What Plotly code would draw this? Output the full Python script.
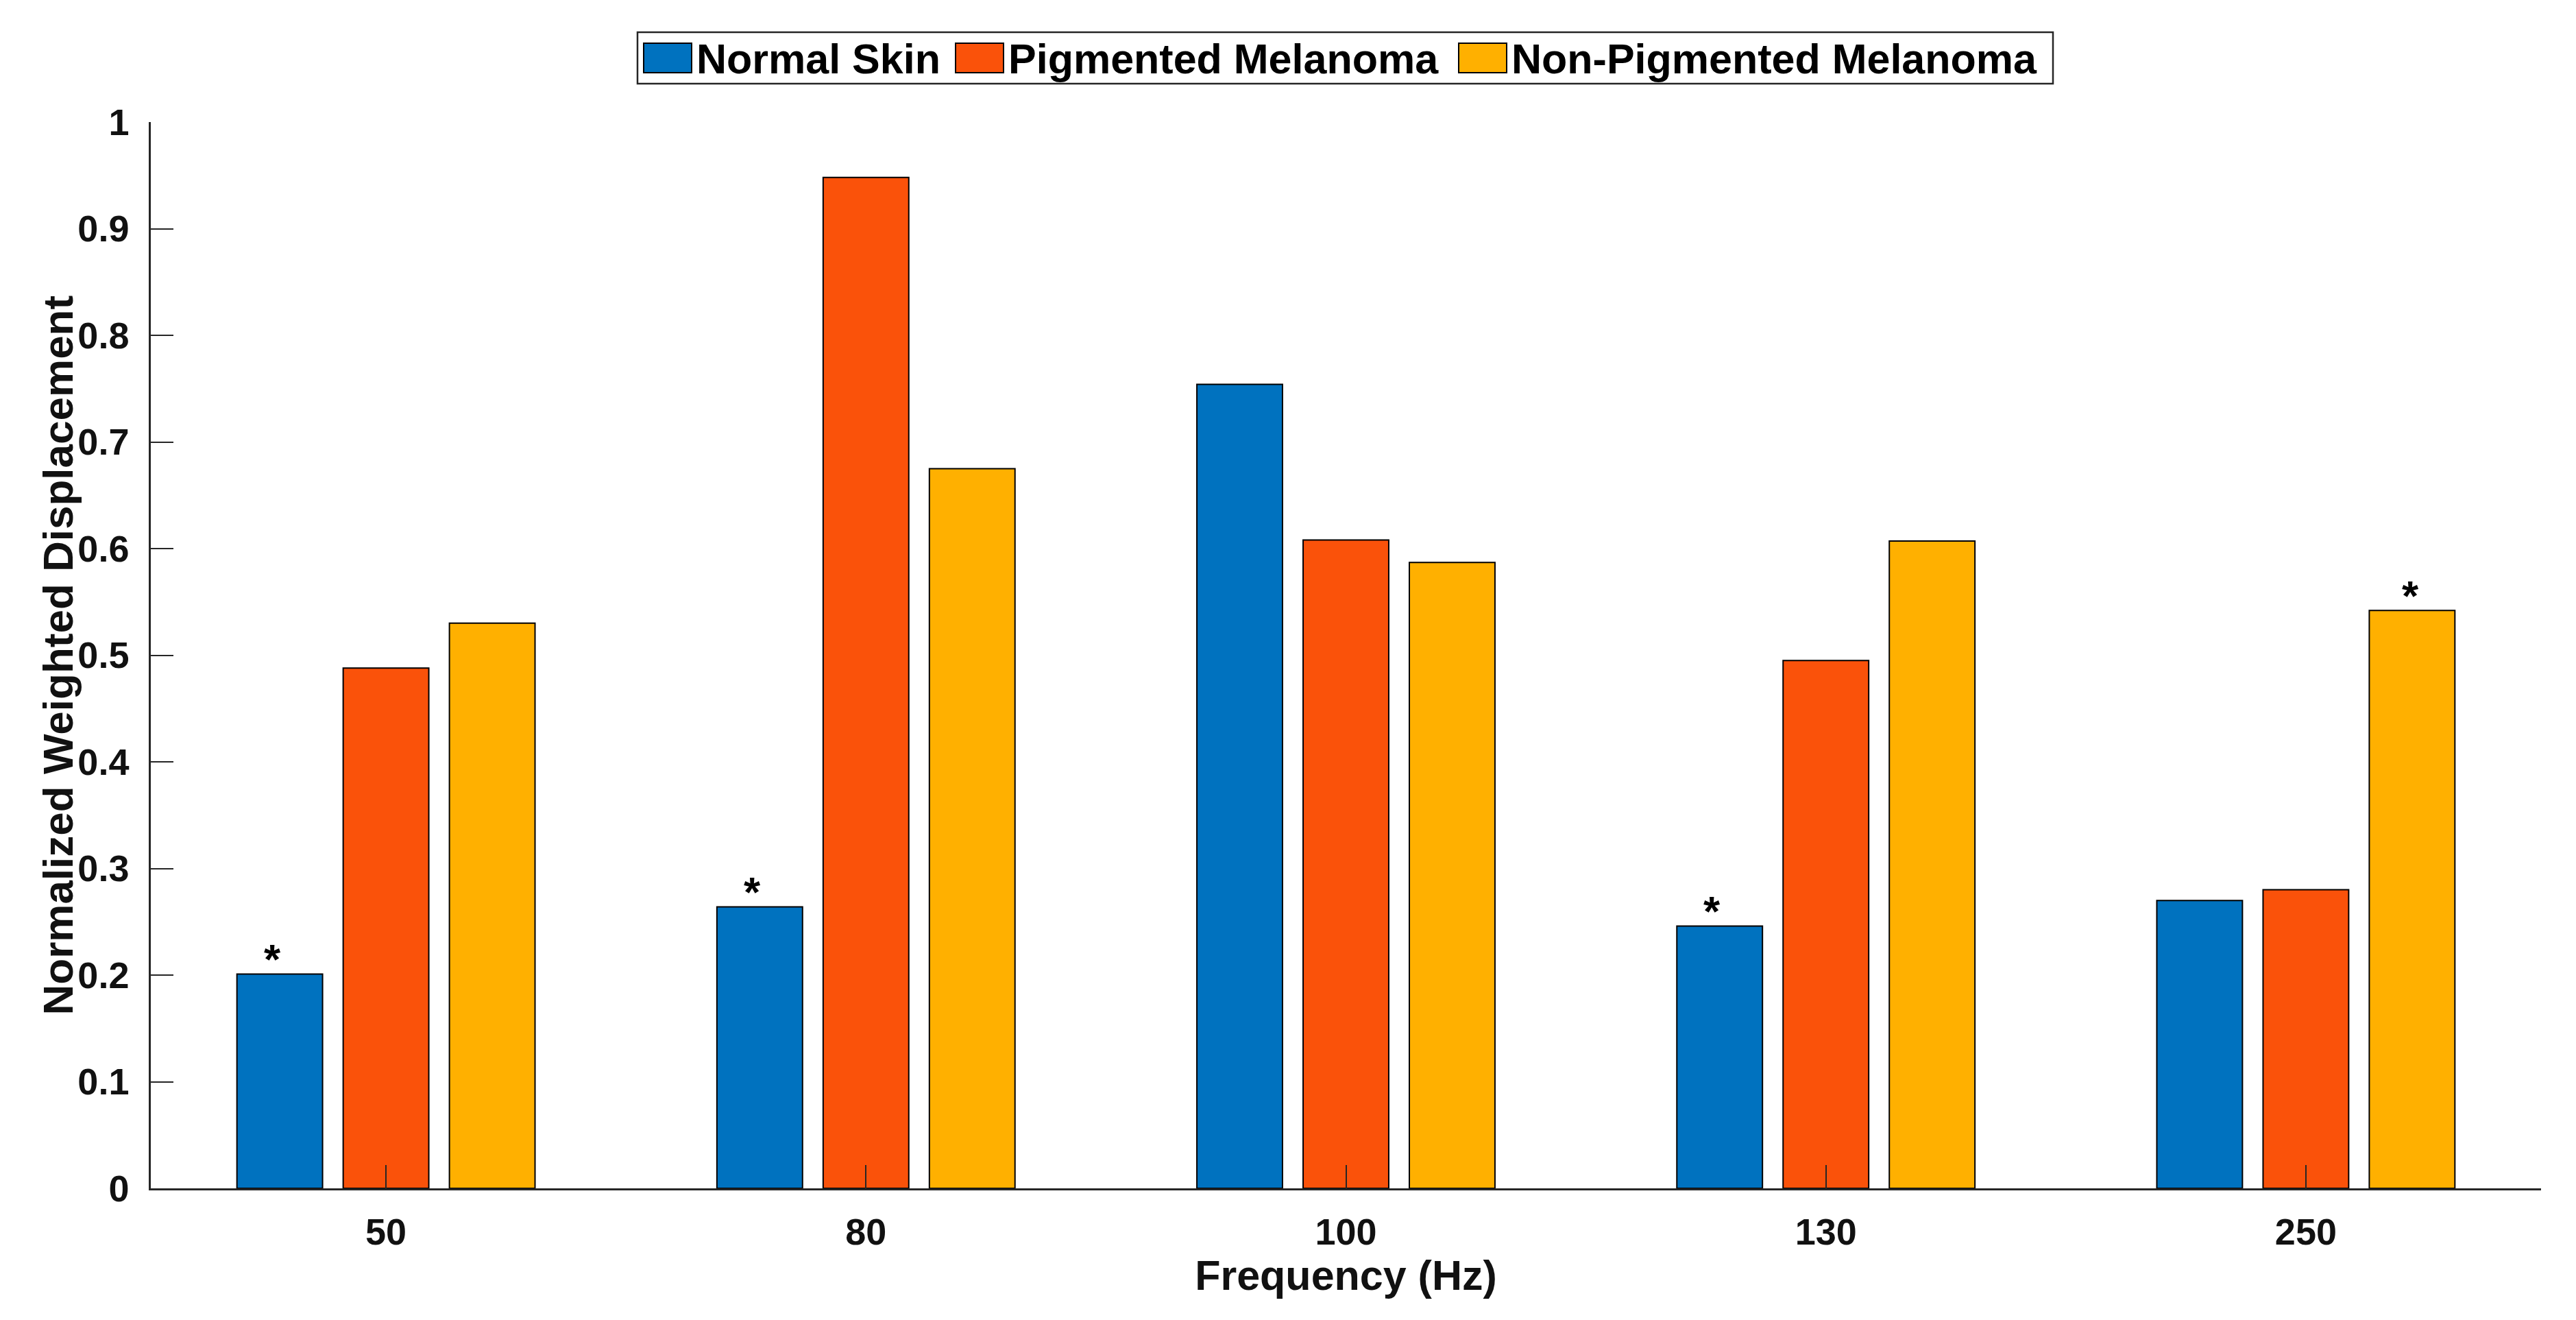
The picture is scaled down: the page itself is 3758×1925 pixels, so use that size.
import plotly.graph_objects as go

# ---- data ----
frequencies = ["50", "80", "100", "130", "250"]
series_names = ["Normal Skin", "Pigmented Melanoma", "Non-Pigmented Melanoma"]
normal_skin = [0.201, 0.264, 0.754, 0.246, 0.270]
pigmented = [0.488, 0.948, 0.608, 0.495, 0.280]
non_pigmented = [0.530, 0.675, 0.587, 0.607, 0.542]
normal_marks = ["*", "*", "", "*", ""]
pigmented_marks = ["", "", "", "", ""]
non_pigmented_marks = ["", "", "", "", "*"]
colors = ["#0072BF", "#FA520A", "#FFB000"]

FONT = "Liberation Sans, Arial, Helvetica, sans-serif"
W, H = 3758, 1925
OFF = 8  # page body margin
L, R, T, B = 220 - OFF, 51 + OFF, 178 - OFF, 192 + OFF
PW, PH = W - L - R, H - T - B


def pxx(x):
    # page pixel x -> paper coordinate
    return (x - OFF - L) / PW


def pxy(y):
    # page pixel y -> paper coordinate
    return (H - B - (y - OFF)) / PH


all_values = [normal_skin, pigmented, non_pigmented]
all_marks = [normal_marks, pigmented_marks, non_pigmented_marks]
mark_xshift = [-166, 0, 153]  # pixel offset of each series' bar within a group

fig = go.Figure()
annotations = []
for name, vals, marks, col, xs in zip(series_names, all_values, all_marks, colors, mark_xshift):
    fig.add_trace(go.Bar(
        x=frequencies, y=vals, name=name,
        marker=dict(color=col, line=dict(color="black", width=2)),
        showlegend=False,
    ))
    for i, (v, m) in enumerate(zip(vals, marks)):
        if m:
            # category axes place annotations by category index
            annotations.append(dict(
                xref="x", yref="y", x=i, y=v, xshift=xs, yshift=22,
                xanchor="center", yanchor="middle", showarrow=False, text=m,
                font=dict(size=62, family=FONT, color="black", weight="bold")))

axis_color = "#262626"
fig.update_layout(
    width=W, height=H,
    margin=dict(l=L, r=R, t=T, b=B, pad=0),
    paper_bgcolor="white", plot_bgcolor="white",
    barmode="group", bargap=0.336, bargroupgap=0.194,
    font=dict(family=FONT, color="#111111", weight="bold"),
    xaxis=dict(
        type="category", range=[-0.49, 4.49],
        showline=True, linecolor=axis_color, linewidth=2.5, mirror=False,
        ticks="inside", ticklen=34, tickwidth=2, tickcolor=axis_color,
        showgrid=False, zeroline=False,
        tickfont=dict(size=54, family=FONT, color="#111111", weight="bold"),
        ticklabelstandoff=14,
        title=dict(text="Frequency (Hz)", standoff=14,
                   font=dict(size=61, family=FONT, color="#111111", weight="bold")),
    ),
    yaxis=dict(
        range=[0, 1], tick0=0, dtick=0.1,
        showline=True, linecolor=axis_color, linewidth=2.5, mirror=False,
        ticks="inside", ticklen=33, tickwidth=2, tickcolor=axis_color,
        showgrid=False, zeroline=False,
        tickfont=dict(size=54, family=FONT, color="#111111", weight="bold"),
        ticklabelstandoff=18,
    ),
)

# y-axis title placed as rotated text
annotations.append(dict(
    xref="paper", yref="paper", x=pxx(84), y=0.5, xanchor="center", yanchor="middle",
    textangle=-90, showarrow=False, text="Normalized Weighted Displacement",
    font=dict(size=62, family=FONT, color="#111111", weight="bold")))

# ---- custom legend (large swatches like the original) ----
shapes = [dict(type="rect", xref="paper", yref="paper",
               x0=pxx(930), x1=pxx(2995), y0=pxy(122), y1=pxy(47),
               line=dict(color=axis_color, width=2.5), fillcolor="white", layer="above")]
swatch_left = [939, 1394, 2128]
text_left = [1014, 1469, 2203]
for name, col, sx, tx in zip(series_names, colors, swatch_left, text_left):
    shapes.append(dict(type="rect", xref="paper", yref="paper",
                       x0=pxx(sx), x1=pxx(sx + 70), y0=pxy(106), y1=pxy(63),
                       line=dict(color="black", width=2), fillcolor=col, layer="above"))
    annotations.append(dict(xref="paper", yref="paper", x=pxx(tx), y=pxy(86),
                            xanchor="left", yanchor="middle", showarrow=False,
                            text=name,
                            font=dict(size=61, family=FONT, color="black", weight="bold")))
fig.update_layout(shapes=shapes, annotations=annotations)

fig.write_html("out.html")
